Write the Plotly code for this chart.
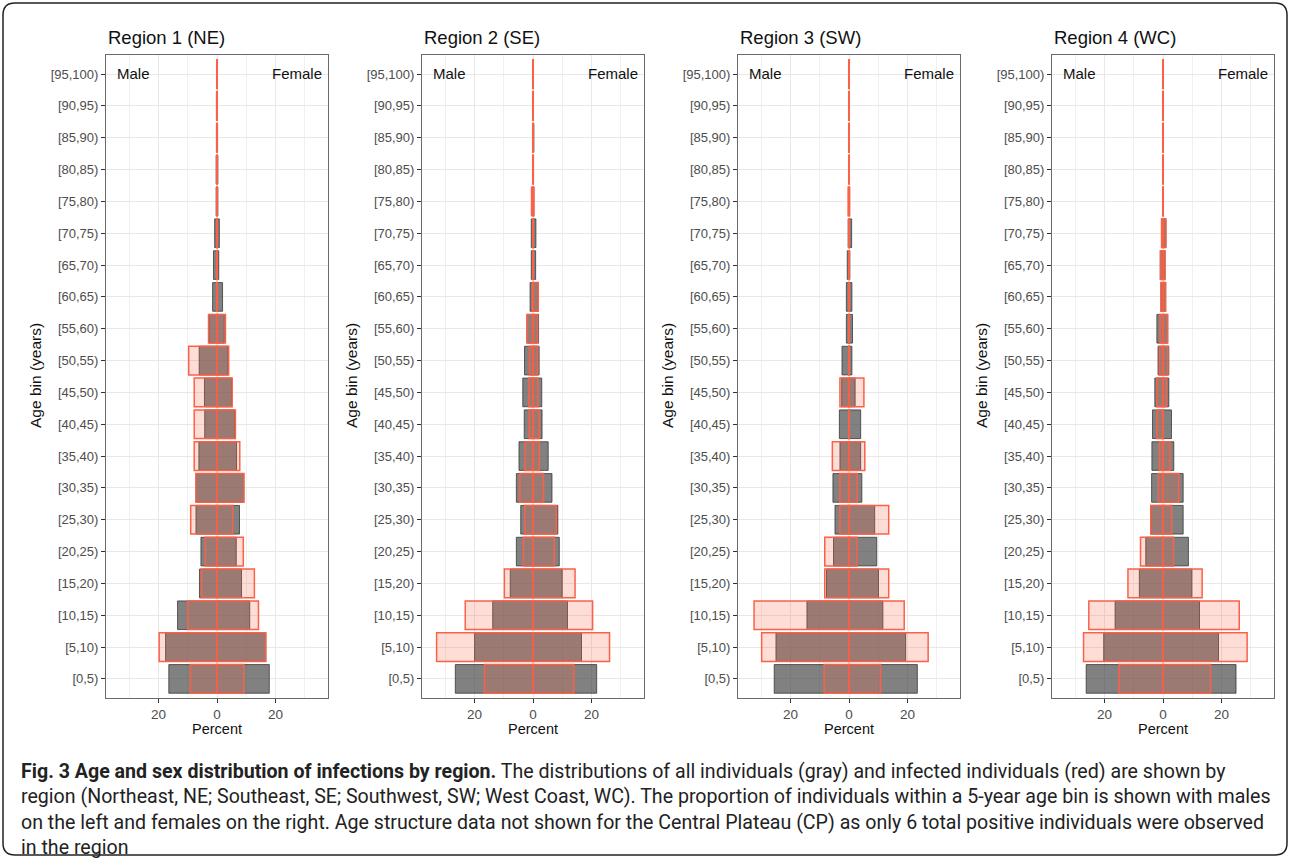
import plotly.graph_objects as go

W, H = 1290, 858

age_bins = ["[0,5)", "[5,10)", "[10,15)", "[15,20)", "[20,25)", "[25,30)", "[30,35)",
            "[35,40)", "[40,45)", "[45,50)", "[50,55)", "[55,60)", "[60,65)", "[65,70)",
            "[70,75)", "[75,80)", "[80,85)", "[85,90)", "[90,95)", "[95,100)"]

region_titles = ["Region 1 (NE)", "Region 2 (SE)", "Region 3 (SW)", "Region 4 (WC)"]

# percent of all individuals (gray) and infected individuals (red), males / females
r1_all_male = [16.5, 17.6, 13.5, 6.0, 5.5, 7.2, 7.2, 6.2, 4.2, 4.3, 6.1, 2.7, 1.5, 1.2, 0.8, 0.3, 0.3, 0.2, 0.2, 0.1]
r1_all_female = [17.9, 16.7, 11.2, 8.4, 6.6, 7.7, 9.2, 6.7, 6.1, 5.0, 3.8, 2.5, 1.9, 0.6, 0.8, 0.3, 0.3, 0.2, 0.1, 0.1]
r1_inf_male = [9.1, 19.8, 10.0, 5.3, 4.0, 9.0, 7.2, 7.8, 7.8, 7.8, 9.7, 2.9, 0.1, 0.1, 0.1, 0.1, 0.1, 0.1, 0.1, 0.1]
r1_inf_female = [9.2, 16.7, 14.2, 12.8, 9.0, 5.4, 9.2, 7.8, 6.3, 5.2, 4.0, 2.9, 0.1, 0.1, 0.1, 0.1, 0.1, 0.1, 0.1, 0.1]

r2_all_male = [26.6, 20.0, 13.8, 7.8, 5.7, 4.2, 5.7, 4.8, 3.0, 3.5, 2.9, 2.1, 1.0, 0.6, 0.6, 0.1, 0.1, 0.1, 0.1, 0.1]
r2_all_female = [21.8, 16.6, 11.8, 10.0, 9.0, 8.5, 6.5, 5.2, 3.1, 3.0, 2.1, 1.9, 1.8, 0.9, 1.0, 0.3, 0.2, 0.3, 0.1, 0.1]
r2_inf_male = [16.6, 33.0, 23.2, 9.8, 3.3, 2.8, 4.5, 2.7, 1.3, 1.4, 1.2, 2.0, 0.2, 0.1, 0.1, 0.5, 0.1, 0.1, 0.1, 0.1]
r2_inf_female = [14.0, 26.2, 20.4, 14.4, 7.3, 8.0, 3.6, 2.2, 2.2, 1.7, 1.6, 1.6, 1.8, 0.1, 0.1, 0.3, 0.1, 0.1, 0.1, 0.1]

r3_all_male = [25.6, 25.0, 14.4, 7.7, 5.3, 4.8, 5.5, 3.1, 3.3, 2.5, 2.4, 0.9, 0.9, 0.6, 0.3, 0.1, 0.1, 0.1, 0.1, 0.1]
r3_all_female = [23.4, 19.4, 11.6, 10.1, 9.5, 8.8, 4.4, 4.0, 4.0, 2.1, 1.0, 1.2, 1.0, 0.3, 0.9, 0.2, 0.1, 0.1, 0.1, 0.1]
r3_inf_male = [8.5, 29.9, 32.5, 8.3, 8.3, 3.1, 3.1, 5.7, 0.1, 3.1, 0.1, 0.1, 0.1, 0.1, 0.1, 0.3, 0.1, 0.1, 0.1, 0.1]
r3_inf_female = [10.8, 27.1, 18.9, 13.6, 2.7, 13.6, 2.8, 5.4, 0.1, 5.1, 0.1, 0.1, 0.1, 0.1, 0.1, 0.2, 0.1, 0.1, 0.1, 0.1]

r4_all_male = [26.3, 20.3, 16.4, 8.1, 5.9, 4.2, 3.9, 3.8, 3.6, 2.8, 1.7, 2.1, 0.7, 0.9, 0.5, 0.1, 0.1, 0.1, 0.1, 0.1]
r4_all_female = [25.0, 19.0, 12.5, 9.9, 8.7, 6.9, 6.9, 3.7, 2.9, 2.0, 2.0, 1.6, 0.9, 0.7, 1.0, 0.1, 0.1, 0.1, 0.1, 0.1]
r4_inf_male = [15.1, 27.2, 25.4, 12.0, 7.7, 4.2, 1.6, 1.2, 2.1, 2.1, 1.2, 1.0, 0.7, 0.9, 0.5, 0.1, 0.1, 0.1, 0.1, 0.1]
r4_inf_female = [16.3, 28.8, 26.1, 13.4, 3.6, 3.0, 5.4, 2.4, 0.1, 1.2, 1.7, 1.6, 0.9, 0.7, 1.0, 0.1, 0.1, 0.1, 0.1, 0.1]

regions = [
    (r1_all_male, r1_all_female, r1_inf_male, r1_inf_female),
    (r2_all_male, r2_all_female, r2_inf_male, r2_inf_female),
    (r3_all_male, r3_all_female, r3_inf_male, r3_inf_female),
    (r4_all_male, r4_all_female, r4_inf_male, r4_inf_female),
]

x_tick_vals = [-20, 0, 20]
x_tick_text = ["20", "0", "20"]

caption_bold = "Fig. 3 Age and sex distribution of infections by region."
caption_lines = [
    " The distributions of all individuals (gray) and infected individuals (red) are shown by",
    "region (Northeast, NE; Southeast, SE; Southwest, SW; West Coast, WC). The proportion of individuals within a 5-year age bin is shown with males",
    "on the left and females on the right. Age structure data not shown for the Central Plateau (CP) as only 6 total positive individuals were observed",
    "in the region",
]

# ---- layout geometry (pixels) ----
panel_left = [106, 422, 738, 1052]
panel_w = 222
top_px, bot_px = 55, 698
XR = 38.0


def px(x):
    return x / W


def py(y):
    return 1 - y / H


GRAY_FILL = "rgba(70,70,70,0.68)"
GRAY_LINE = "rgba(50,50,50,0.75)"
RED_FILL = "rgba(255,99,71,0.22)"
RED_LINE = "rgb(250,98,72)"
FONT = "Liberation Sans, Arial, sans-serif"

fig = go.Figure()
annotations = []
layout_axes = {}

for i, (am, af, im, inf) in enumerate(regions):
    n = i + 1
    xa = "x" if n == 1 else f"x{n}"
    ya = "y" if n == 1 else f"y{n}"
    common = dict(orientation="h", y=age_bins, xaxis=xa, yaxis=ya, width=0.9,
                  showlegend=False, hoverinfo="skip")
    fig.add_trace(go.Bar(x=[-v for v in am], base=0, marker=dict(color=GRAY_FILL, line=dict(color=GRAY_LINE, width=1)), **common))
    fig.add_trace(go.Bar(x=af, base=0, marker=dict(color=GRAY_FILL, line=dict(color=GRAY_LINE, width=1)), **common))
    fig.add_trace(go.Bar(x=[-v for v in im], base=0, marker=dict(color=RED_FILL, line=dict(color=RED_LINE, width=1.5)), **common))
    fig.add_trace(go.Bar(x=inf, base=0, marker=dict(color=RED_FILL, line=dict(color=RED_LINE, width=1.5)), **common))

    l = panel_left[i]
    r = l + panel_w
    xkey = "xaxis" if n == 1 else f"xaxis{n}"
    ykey = "yaxis" if n == 1 else f"yaxis{n}"
    layout_axes[xkey] = dict(
        domain=[px(l), px(r)], anchor=ya, range=[-XR, XR],
        tickvals=x_tick_vals, ticktext=x_tick_text,
        showgrid=True, gridcolor="#E8E8E8", gridwidth=1.2,
        minor=dict(dtick=10, tick0=10, showgrid=True, gridcolor="#F0F0F0", gridwidth=0.7, ticks=""),
        ticks="outside", ticklen=4, tickcolor="#333333", tickwidth=1,
        tickfont=dict(family=FONT, size=13.5, color="#4D4D4D"),
        showline=True, linecolor="#6a6a6a", linewidth=1, mirror=True,
        zeroline=False, fixedrange=True,
    )
    layout_axes[ykey] = dict(
        domain=[py(bot_px), py(top_px)], anchor=xa,
        type="category", categoryorder="array", categoryarray=age_bins,
        range=[-0.6, 19.6],
        showgrid=True, gridcolor="#E8E8E8", gridwidth=1.2,
        ticks="outside", ticklen=4, tickcolor="#333333", tickwidth=1,
        tickfont=dict(family=FONT, size=13, color="#4D4D4D"),
        showline=True, linecolor="#6a6a6a", linewidth=1, mirror=True,
        zeroline=False, fixedrange=True,
    )

    # panel title
    annotations.append(dict(text=region_titles[i], x=px(l), y=py(37), xref="paper", yref="paper",
                            xanchor="left", yanchor="middle", showarrow=False,
                            font=dict(family=FONT, size=18.5, color="#111111")))
    # Male / Female labels
    annotations.append(dict(text="Male", x=px(l + 9), y=py(73), xref="paper", yref="paper",
                            xanchor="left", yanchor="middle", showarrow=False,
                            font=dict(family=FONT, size=15, color="#111111")))
    annotations.append(dict(text="Female", x=px(r - 4), y=py(73), xref="paper", yref="paper",
                            xanchor="right", yanchor="middle", showarrow=False,
                            font=dict(family=FONT, size=15, color="#111111")))
    # axis titles
    annotations.append(dict(text="Percent", x=px(l + panel_w / 2), y=py(729), xref="paper", yref="paper",
                            xanchor="center", yanchor="middle", showarrow=False,
                            font=dict(family=FONT, size=14.5, color="#111111")))
    annotations.append(dict(text="Age bin (years)", x=px(l - 71), y=py(376), xref="paper", yref="paper",
                            xanchor="center", yanchor="middle", showarrow=False, textangle=-90,
                            font=dict(family=FONT, size=15.5, color="#111111")))

caption_text = "<b>" + caption_bold + "</b>" + "<br>".join(caption_lines)
annotations.append(dict(text=caption_text, x=px(19), y=py(809), xref="paper", yref="paper",
                        xanchor="left", yanchor="middle", align="left", showarrow=False,
                        font=dict(family="Roboto, sans-serif", size=19.6, color="#222222")))

# outer figure frame (rounded rectangle)
x0, y0, x1, y1, rad = px(3), py(855), px(1287), py(3), 12
rx, ry = rad / W, rad / H
frame_path = (f"M {x0 + rx},{y1} L {x1 - rx},{y1} Q {x1},{y1} {x1},{y1 - ry} "
              f"L {x1},{y0 + ry} Q {x1},{y0} {x1 - rx},{y0} L {x0 + rx},{y0} "
              f"Q {x0},{y0} {x0},{y0 + ry} L {x0},{y1 - ry} Q {x0},{y1} {x0 + rx},{y1} Z")

fig.update_layout(
    width=W, height=H, margin=dict(l=0, r=0, t=0, b=0),
    paper_bgcolor="white", plot_bgcolor="white",
    barmode="overlay", bargap=0.1,
    annotations=annotations,
    shapes=[dict(type="path", path=frame_path, xref="paper", yref="paper",
                 line=dict(color="#222222", width=1.5), layer="above")],
    **layout_axes,
)

fig.write_html("out.html")
